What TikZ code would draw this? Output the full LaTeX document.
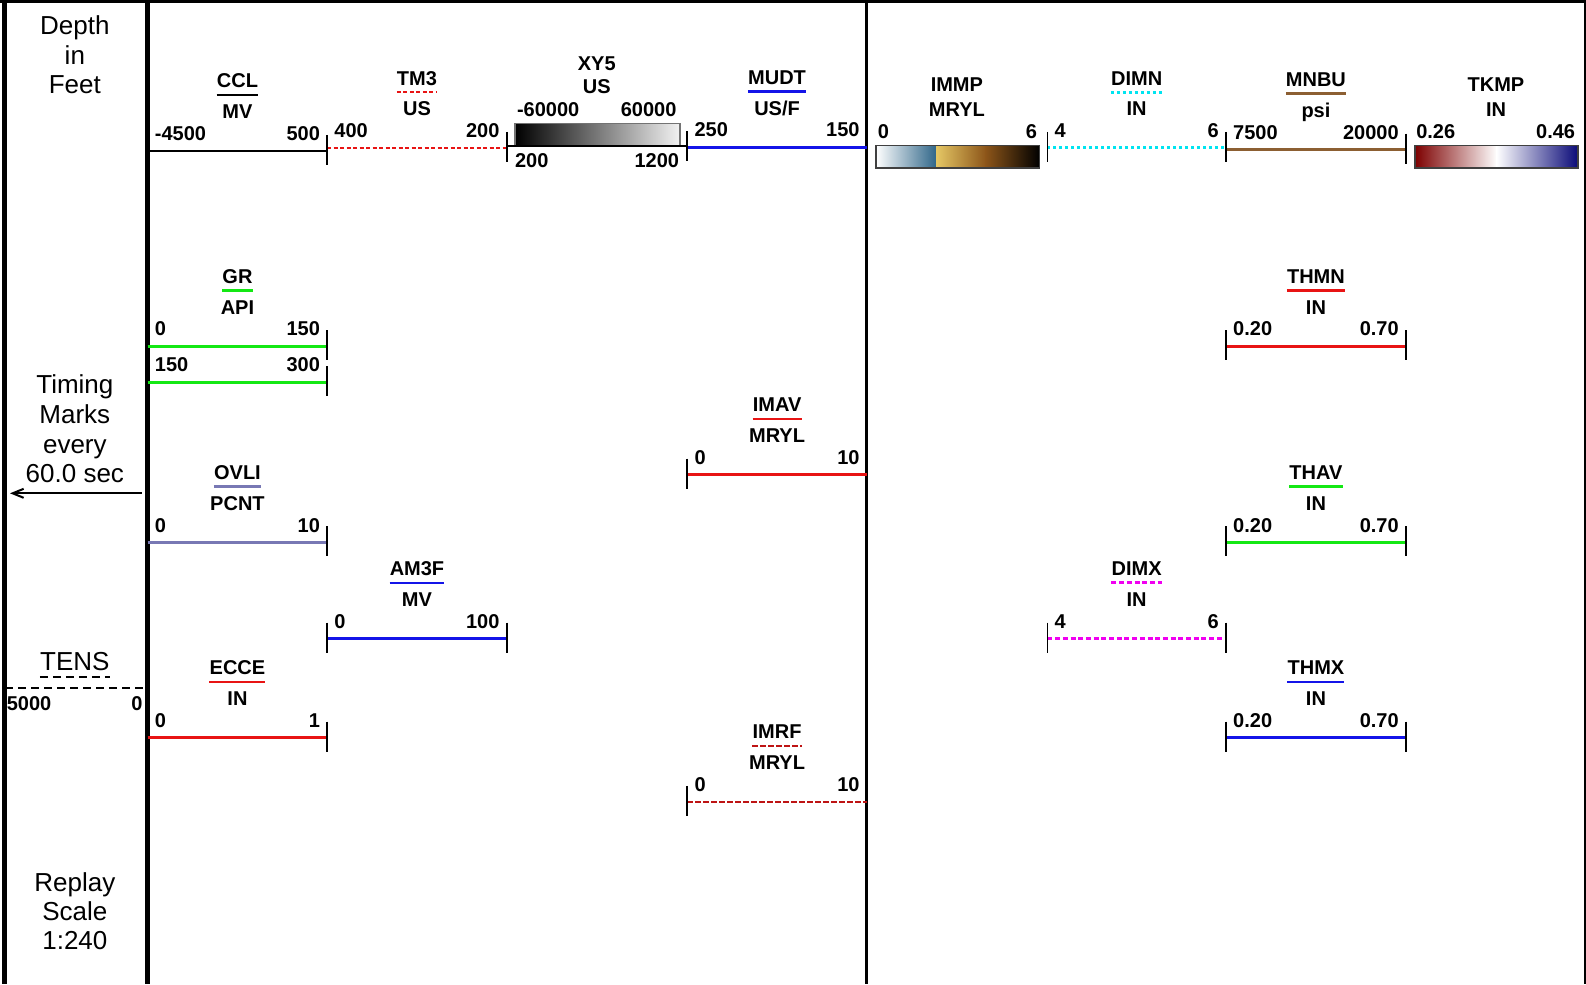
\documentclass[tikz,border=0pt]{standalone}
\usepackage{fontspec}
\setmainfont{Liberation Sans}
\usetikzlibrary{arrows.meta}
\definecolor{cRed}{RGB}{232,20,20}
\definecolor{cBlue}{RGB}{20,20,232}
\definecolor{cGreen}{RGB}{20,232,20}
\definecolor{cSlate}{RGB}{120,120,180}
\definecolor{cBrown}{RGB}{140,95,50}
\definecolor{cCyan}{RGB}{0,228,240}
\definecolor{cMagenta}{RGB}{240,0,240}
\definecolor{cDkRed}{RGB}{190,20,20}
\definecolor{immpBlue}{RGB}{45,100,135}
\definecolor{immpGold}{RGB}{228,198,100}
\definecolor{immpBrown}{RGB}{140,85,25}
\definecolor{tkRed}{RGB}{125,0,0}
\definecolor{tkNavy}{RGB}{10,10,120}
\tikzset{
  lbl/.style={font=\fontsize{20}{24}\selectfont\bfseries, inner sep=0pt, text height=14.3pt, text depth=0pt},
  side/.style={font=\fontsize{26}{30}\selectfont, inner sep=0pt, text height=18.6pt, text depth=0pt},
  trk/.style={line width=2.6pt},
  tickln/.style={line width=1.8pt, black},
  tmdash/.style={line width=2pt, dash pattern=on 4pt off 2.5pt},
  dimndot/.style={line width=3pt, dash pattern=on 3pt off 3pt},
  dimxdash/.style={line width=3pt, dash pattern=on 5pt off 2.7pt},
  imrfdash/.style={line width=2pt, dash pattern=on 5.5pt off 2.5pt},
  tensdash/.style={line width=2pt, dash pattern=on 8pt off 5pt},
}
\newcommand{\Trk}[9]{%
  \node[lbl] (#1n) at ({(#4+#5)/2},#6) {#2};
  \draw[trk,#9] ([yshift=-7pt]#1n.south west) -- ([yshift=-7pt]#1n.south east);
  \node[lbl] (#1u) at ({(#4+#5)/2},{#6+30.5}) {#3};
  \node[lbl,anchor=west] (#1l) at ({#4+7},{#6+52}) {#7};
  \node[lbl,anchor=east] (#1r) at ({#5-7},{#6+52}) {#8};
  \coordinate (#1a) at (#4,{#6+69.3});
  \coordinate (#1b) at (#5,{#6+69.3});
  \draw[trk,#9] (#1a) -- (#1b);
}
\newcommand{\Tick}[1]{\draw[tickln] ([yshift=16pt]#1) -- ([yshift=-14pt]#1);}
\begin{document}
\begin{tikzpicture}[x=1.0115pt,y=-1.0115pt]
\useasboundingbox (0,0) rectangle (1568,973);
\fill[white] (0,0) rectangle (1568,973);
% frame
\draw[line width=3.5pt] (0,1.7) -- (1568,1.7);
\draw[line width=4.5pt] (4.3,0) -- (4.3,973);
\draw[line width=4.5pt] (145.8,0) -- (145.8,973);
\draw[line width=3pt] (857.1,0) -- (857.1,973);
\draw[line width=3pt] (1567,0) -- (1567,973);
% left panel
\node[side] (dep1) at (74,24.7) {Depth};
\node[side] (dep2) at (74,54.2) {in};
\node[side] (dep3) at (74,83.7) {Feet};
\node[side] (tim1) at (74,380) {Timing};
\node[side] (tim2) at (74,409.3) {Marks};
\node[side] (tim3) at (74,438.7) {every};
\node[side] (tim4) at (74,468) {60.0 sec};
\coordinate (arrS) at (140,487.7);
\coordinate (arrE) at (9.9,487.7);
\draw[line width=2pt, -{Straight Barb[length=11pt,width=9pt]}] (arrS) -- (arrE);
\node[side] (tens) at (74,653.5) {TENS};
\draw[tensdash] ([yshift=-6pt]tens.south west) -- ([yshift=-6pt]tens.south east);
\coordinate (tensA) at (5,679.8);
\coordinate (tensB) at (143.5,679.8);
\draw[tensdash] (tensA) -- (tensB);
\node[lbl,anchor=west] (t5000) at (6.6,695) {5000};
\node[lbl,anchor=east] (t0) at (141,695) {0};
\node[side] (rep1) at (74,871.7) {Replay};
\node[side] (rep2) at (74,900.8) {Scale};
\node[side] (rep3) at (74,929.8) {1:240};
% top row tracks
\Trk{ccl}{CCL}{MV}{146}{323.5}{79.8}{-4500}{500}{black}
\Trk{tm}{TM3}{US}{323.5}{501}{77}{400}{200}{cRed,tmdash}
\Trk{mudt}{MUDT}{US/F}{679.5}{857}{76.3}{250}{150}{cBlue}
\Trk{dimn}{DIMN}{IN}{1035.5}{1212}{77}{4}{6}{cCyan,dimndot}
\Trk{mnbu}{MNBU}{psi}{1212}{1390}{78.5}{7500}{20000}{cBrown}
% XY5
\node[lbl] (xyn) at (590,62.6) {XY5};
\node[lbl] (xyu) at (590,85.7) {US};
\node[lbl,anchor=west] (xyl) at (511,108.4) {-60000};
\node[lbl,anchor=east] (xyr) at (669,108.4) {60000};
\shade[left color=black, right color=white!95!black] (509.2,121.9) rectangle (672.3,144.5);
\draw[black!55, line width=1.2pt] (509.2,121.9) rectangle (672.3,144.5);
\coordinate (xya) at (501,144.5);
\coordinate (xyb) at (679.5,144.5);
\draw[trk,black] (xya) -- (xyb);
\node[lbl,anchor=west] (xyl2) at (509,158.2) {200};
\node[lbl,anchor=east] (xyr2) at (671.6,158.2) {1200};
% IMMP
\node[lbl] (immpn) at (946,83) {IMMP};
\node[lbl] (immpu) at (946,108) {MRYL};
\node[lbl,anchor=west] (immpl) at (867.6,130) {0};
\node[lbl,anchor=east] (immpr) at (1025.5,130) {6};
\shade[left color=white, right color=immpBlue] (866,144) rectangle (926.4,166);
\shade[left color=immpGold, right color=immpBrown] (925.9,144) rectangle (974.9,166);
\shade[left color=immpBrown, right color=black] (974.4,144) rectangle (1027.8,166);
\draw[black!75, line width=1.2pt] (866,144) rectangle (1027.8,166);
% TKMP
\node[lbl] (tkn) at (1479,83) {TKMP};
\node[lbl] (tku) at (1479,108) {IN};
\node[lbl,anchor=west] (tkl) at (1400,130) {0.26};
\node[lbl,anchor=east] (tkr) at (1557.4,130) {0.46};
\shade[left color=tkRed, right color=white] (1399,144) rectangle (1480,166);
\shade[left color=white, right color=tkNavy] (1479.5,144) rectangle (1560,166);
\draw[black!75, line width=1.2pt] (1399,144) rectangle (1560,166);
% ticks top row
\Tick{cclb} \Tick{tmb} \Tick{mudta} \Tick{dimna} \Tick{dimnb} \Tick{mnbub}
% other rows
\Trk{gr}{GR}{API}{146}{323.5}{273}{0}{150}{cGreen}
\node[lbl,anchor=west] (gr2l) at (153,360.7) {150};
\node[lbl,anchor=east] (gr2r) at (316.5,360.7) {300};
\coordinate (gr2a) at (146,378);
\coordinate (gr2b) at (323.5,378);
\draw[trk,cGreen] (gr2a) -- (gr2b);
\Trk{thmn}{THMN}{IN}{1212}{1390}{273}{0.20}{0.70}{cRed}
\Trk{imav}{IMAV}{MRYL}{679.5}{857}{400}{0}{10}{cRed}
\Trk{ovli}{OVLI}{PCNT}{146}{323.5}{467}{0}{10}{cSlate}
\Trk{thav}{THAV}{IN}{1212}{1390}{467}{0.20}{0.70}{cGreen}
\Trk{amf}{AM3F}{MV}{323.5}{501}{562}{0}{100}{cBlue}
\Trk{dimx}{DIMX}{IN}{1035.5}{1212}{562}{4}{6}{cMagenta,dimxdash}
\Trk{ecce}{ECCE}{IN}{146}{323.5}{660}{0}{1}{cRed}
\Trk{thmx}{THMX}{IN}{1212}{1390}{660}{0.20}{0.70}{cBlue}
\Trk{imrf}{IMRF}{MRYL}{679.5}{857}{723.5}{0}{10}{cDkRed,imrfdash}
\Tick{grb} \Tick{gr2b} \Tick{thmna} \Tick{thmnb} \Tick{imava} \Tick{ovlib}
\Tick{thava} \Tick{thavb} \Tick{amfa} \Tick{amfb} \Tick{dimxa} \Tick{dimxb}
\Tick{ecceb} \Tick{thmxa} \Tick{thmxb} \Tick{imrfa}
\end{tikzpicture}
\end{document}
